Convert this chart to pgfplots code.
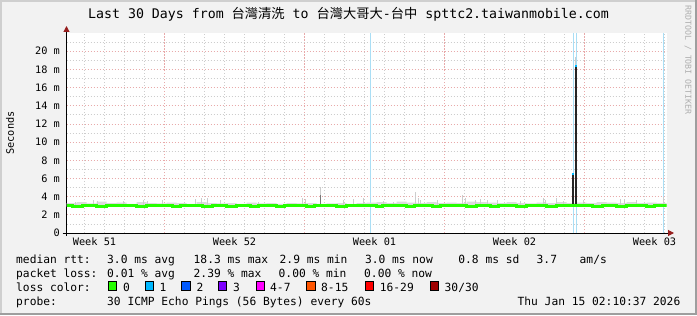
\documentclass[border=0pt]{standalone}
\usepackage{pgfplots}
\pgfplotsset{compat=1.18}
\usepackage{fontspec}
\usetikzlibrary{arrows.meta}
\newfontfamily\mono{DejaVu Sans Mono}
\newfontfamily\cjk{Noto Sans CJK TC}
\definecolor{bg}{RGB}{242,242,242}
\definecolor{shadea}{RGB}{207,207,207}
\definecolor{shadeb}{RGB}{158,158,158}
\definecolor{gridred}{RGB}{232,170,170}
\definecolor{gridgray}{RGB}{205,205,205}
\definecolor{arrowred}{RGB}{150,30,30}
\definecolor{lossbar}{RGB}{170,222,245}
\definecolor{medgreen}{RGB}{38,255,0}
\definecolor{smoke}{RGB}{205,205,205}
\definecolor{smokedark}{RGB}{120,120,120}
\definecolor{lc0}{RGB}{38,255,0}
\definecolor{lc1}{RGB}{0,184,255}
\definecolor{lc2}{RGB}{0,89,255}
\definecolor{lc3}{RGB}{126,0,255}
\definecolor{lc4}{RGB}{255,0,255}
\definecolor{lc8}{RGB}{255,85,0}
\definecolor{lc16}{RGB}{255,0,0}
\definecolor{lc30}{RGB}{160,0,0}
\definecolor{wm}{RGB}{175,175,175}
\newcommand\legfont{\mono\fontsize{11.3}{13}\selectfont}
\newcommand\axfont{\mono\fontsize{10.3}{12}\selectfont}
\newcommand\legtxt[3]{\node[anchor=base west, inner sep=0pt, font=\legfont] at (#1,#2) {#3};}
\newcommand\swatch[2]{\draw[fill=#2, draw=black, line width=0.8bp] (#1,24.3) rectangle ++(8.4,9);}
\begin{document}
\begin{tikzpicture}[x=1bp,y=1bp]
\useasboundingbox (0,0) rectangle (697,315);
\fill[bg] (0,0) rectangle (697,315);
\draw[shadea, line width=2bp] (1,0) -- (1,314) -- (697,314);
\draw[shadeb, line width=2bp] (0,1) -- (696,1) -- (696,315);
\node[anchor=base, inner sep=0pt, font=\mono\fontsize{13.3}{15}\selectfont] at (348.5,296.5)
  {Last 30 Days from {\cjk 台灣清洗} to {\cjk 台灣大哥大}-{\cjk 台中} spttc2.taiwanmobile.com};
\node[rotate=90, inner sep=0pt, font=\axfont] at (10,182) {Seconds};
\node[rotate=-90, inner sep=0pt, font=\mono\fontsize{8.3}{10}\selectfont, text=wm] at (688,255) {RRDTOOL / TOBI OETIKER};
\begin{axis}[
  at={(66.5bp,82bp)}, anchor=south west, scale only axis,
  width=600bp, height=200bp,
  xmin=0, xmax=30, ymin=0, ymax=22,
  axis background/.style={fill=white},
  axis lines=left,
  axis line style={line width=1bp, black},
  x axis line style={shorten <=-4bp, shorten >=-7.5bp, -{Triangle[length=6bp,width=6bp,color=arrowred]}},
  y axis line style={shorten <=-3bp, shorten >=-7bp, -{Triangle[length=6bp,width=6bp,color=arrowred]}},
  xtick={4.9,11.9,18.9,25.9}, xticklabels={},
  minor xtick={0.9,1.9,2.9,3.9,5.9,6.9,7.9,8.9,9.9,10.9,12.9,13.9,14.9,15.9,16.9,17.9,19.9,20.9,21.9,22.9,23.9,24.9,26.9,27.9,28.9,29.9},
  extra x ticks={1.4,8.4,15.4,22.4,29.4},
  extra x tick labels={Week 51,Week 52,Week 01,Week 02,Week 03},
  extra x tick style={grid=none, major tick length=0pt},
  ytick={0,2,4,6,8,10,12,14,16,18,20},
  yticklabels={0,2 m,4 m,6 m,8 m,10 m,12 m,14 m,16 m,18 m,20 m},
  minor ytick={1,3,5,7,9,11,13,15,17,19,21},
  grid=both,
  major grid style={gridred, line width=0.8bp, dash pattern=on 1.5bp off 1.5bp},
  minor grid style={gridgray, line width=0.8bp, dash pattern=on 1.2bp off 1.8bp},
  major tick length=0pt, minor tick length=0pt,
  tick label style={font=\axfont, inner sep=0pt},
  yticklabel style={anchor=east, xshift=-6.5bp},
  xticklabel style={anchor=north, yshift=-5bp},
]
% loss bars (1 of 30 lost)
\addplot[ycomb, lossbar, line width=1bp] coordinates {(15.22,22) (25.34,22) (25.49,22) (29.87,22)};
% smoke band
\addplot[fill=smoke!70, draw=none, const plot] coordinates {
(0,3.3) (0.5,3.4) (1,3.25) (1.5,3.45) (2,3.3) (2.5,3.35) (3,3.2) (3.5,3.4) (4,3.3) (4.5,3.25)
(5,3.35) (5.5,3.3) (6,3.2) (6.5,3.4) (7,3.3) (7.5,3.25) (8,3.3) (8.5,3.2) (9,3.35) (9.5,3.25)
(10,3.3) (10.5,3.2) (11,3.3) (11.5,3.25) (12,3.3) (12.5,3.2) (13,3.25) (13.5,3.3) (14,3.2) (14.5,3.3)
(15,3.35) (15.5,3.4) (16,3.3) (16.5,3.45) (17,3.35) (17.5,3.3) (18,3.4) (18.5,3.3) (19,3.35) (19.5,3.3)
(20,3.45) (20.5,3.4) (21,3.35) (21.5,3.3) (22,3.4) (22.5,3.3) (23,3.25) (23.5,3.35) (24,3.3) (24.5,3.4)
(25,3.3) (25.5,3.35) (26,3.3) (26.5,3.4) (27,3.35) (27.5,3.3) (28,3.4) (28.5,3.3) (29,3.35) (29.5,3.3)
(30,3.3) (30,2.9) (0,2.9)};
% smoke spikes
\addplot[draw=none, error bars/.cd, y dir=plus, y explicit, error mark=none,
  error bar style={draw=smoke, line width=1.1bp}] table[x=x, y=y, y error plus=e] {
x y e
0.43 3.0 0.4
1.33 3.0 0.6
1.53 3.0 0.5
2.83 3.0 0.5
3.83 3.0 0.6
4.03 3.0 0.5
4.78 3.0 0.6
6.43 3.0 0.7
6.73 3.0 0.8
7.03 3.0 0.9
7.68 3.0 0.6
9.58 3.0 0.4
11.78 3.0 0.9
11.93 3.0 0.7
12.68 3.0 2.1
13.83 3.0 0.6
14.33 3.0 0.7
14.83 3.0 0.8
15.83 3.0 0.5
16.33 3.0 0.4
17.43 3.0 1.5
17.58 3.0 0.8
17.68 3.0 0.6
18.53 3.0 0.6
19.78 3.0 1.2
19.93 3.0 0.9
20.43 3.0 0.6
20.68 3.0 0.7
21.03 3.0 0.6
21.53 3.0 0.6
22.68 3.0 0.5
23.83 3.0 0.9
23.93 3.0 0.6
24.48 3.0 0.8
24.83 3.0 0.5
25.83 3.0 0.6
27.68 3.0 0.7
27.88 3.0 0.6
28.48 3.0 0.6
29.83 3.0 1.0
25.47 3.0 16.4
};
\addplot[smokedark, line width=1.1bp] coordinates {(12.68,3.0) (12.68,4.2)};
% dense smoke at the spike
\addplot[black!85, line width=2.3bp] coordinates {(25.31,3.0) (25.31,6.5)};
\addplot[black!85, line width=2.3bp] coordinates {(25.47,3.0) (25.47,18.4)};
\addplot[lc1, line width=2.3bp] coordinates {(25.31,6.35) (25.31,6.55)};
\addplot[lc1, line width=2.3bp] coordinates {(25.47,18.25) (25.47,18.45)};
% median rtt
\addplot[medgreen, line width=2.6bp, const plot] coordinates {
(0,3.0) (0.3,2.93) (0.8,3.0) (1.5,2.93) (2.0,3.0) (3.5,2.93) (4.0,3.0) (5.3,2.93) (5.7,3.0)
(6.8,2.93) (7.3,3.0) (8.0,2.93) (8.5,3.0) (9.2,2.93) (9.6,3.0) (10.5,2.93) (10.9,3.0)
(12.0,2.93) (12.4,3.0) (13.5,2.93) (14.0,3.0) (15.5,2.93) (15.8,3.0) (17.0,2.93) (17.4,3.0)
(18.3,2.93) (18.7,3.0) (20.0,2.93) (20.5,3.0) (21.2,2.93) (21.6,3.0) (22.5,2.93) (23.0,3.0)
(24.0,2.93) (24.5,3.0) (26.3,2.93) (26.8,3.0) (27.5,2.93) (28.0,3.0) (29.0,2.93) (29.4,3.0) (30,3.0)};
\end{axis}
% legend
\legtxt{16}{51.9}{median rtt:}
\legtxt{107}{51.9}{3.0 ms avg}
\legtxt{193.5}{51.9}{18.3 ms max}
\legtxt{279.5}{51.9}{2.9 ms min}
\legtxt{364.8}{51.9}{3.0 ms now}
\legtxt{458.2}{51.9}{0.8 ms sd}
\legtxt{536.5}{51.9}{3.7}
\legtxt{579.5}{51.9}{am/s}
\legtxt{16}{37.9}{packet loss:}
\legtxt{107}{37.9}{0.01 \% avg}
\legtxt{193.5}{37.9}{2.39 \% max}
\legtxt{278.5}{37.9}{0.00 \% min}
\legtxt{364}{37.9}{0.00 \% now}
\legtxt{16}{23.9}{loss color:}
\swatch{108.3}{lc0}\legtxt{122.8}{23.9}{0}
\swatch{145}{lc1}\legtxt{159.5}{23.9}{1}
\swatch{181.7}{lc2}\legtxt{196.3}{23.9}{2}
\swatch{218.3}{lc3}\legtxt{233}{23.9}{3}
\swatch{256}{lc4}\legtxt{270}{23.9}{4-7}
\swatch{306.7}{lc8}\legtxt{321}{23.9}{8-15}
\swatch{365}{lc16}\legtxt{379.7}{23.9}{16-29}
\swatch{430}{lc30}\legtxt{444.5}{23.9}{30/30}
\legtxt{16}{9.9}{probe:}
\legtxt{107}{9.9}{30 ICMP Echo Pings (56 Bytes) every 60s}
\node[anchor=base east, inner sep=0pt, font=\legfont] at (680.5,9.9) {Thu Jan 15 02:10:37 2026};
\end{tikzpicture}
\end{document}
